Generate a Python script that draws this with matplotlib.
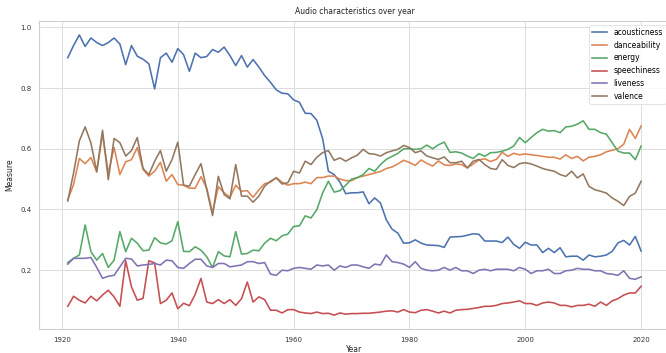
import numpy as np
import matplotlib
matplotlib.use("Agg")
import matplotlib.pyplot as plt

years = list(range(1921, 2021))

acousticness = [
    0.900, 0.940, 0.975, 0.937, 0.965, 0.950, 0.940, 0.950, 0.965, 0.945,
    0.877, 0.940, 0.905, 0.895, 0.880, 0.797, 0.900, 0.915, 0.885, 0.930,
    0.910, 0.855, 0.915, 0.900, 0.904, 0.927, 0.918, 0.935, 0.907, 0.874,
    0.907, 0.869, 0.894, 0.869, 0.841, 0.819, 0.794, 0.783, 0.781, 0.761,
    0.753, 0.717, 0.716, 0.694, 0.634, 0.526, 0.515, 0.490, 0.452, 0.455,
    0.455, 0.458, 0.419, 0.438, 0.421, 0.366, 0.335, 0.322, 0.289, 0.290,
    0.300, 0.289, 0.283, 0.282, 0.281, 0.275, 0.309, 0.310, 0.311, 0.315,
    0.320, 0.318, 0.296, 0.296, 0.296, 0.291, 0.309, 0.285, 0.272, 0.292,
    0.283, 0.283, 0.258, 0.272, 0.258, 0.274, 0.244, 0.246, 0.246, 0.233,
    0.250, 0.244, 0.246, 0.250, 0.262, 0.290, 0.298, 0.283, 0.311, 0.263,
]

danceability = [
    0.432, 0.482, 0.568, 0.551, 0.571, 0.524, 0.648, 0.520, 0.604, 0.515,
    0.557, 0.564, 0.604, 0.532, 0.510, 0.526, 0.555, 0.493, 0.515, 0.482,
    0.480, 0.470, 0.470, 0.508, 0.470, 0.390, 0.475, 0.455, 0.440, 0.480,
    0.460, 0.462, 0.440, 0.465, 0.485, 0.490, 0.505, 0.490, 0.480, 0.485,
    0.485, 0.490, 0.485, 0.505, 0.505, 0.510, 0.510, 0.500, 0.495, 0.495,
    0.505, 0.510, 0.515, 0.520, 0.525, 0.535, 0.540, 0.550, 0.562, 0.555,
    0.545, 0.563, 0.552, 0.543, 0.560, 0.547, 0.545, 0.550, 0.548, 0.537,
    0.550, 0.563, 0.567, 0.558, 0.565, 0.588, 0.575, 0.585, 0.580, 0.583,
    0.580, 0.578, 0.575, 0.572, 0.572, 0.566, 0.580, 0.568, 0.575, 0.560,
    0.572, 0.575, 0.580, 0.590, 0.595, 0.600, 0.615, 0.664, 0.634, 0.675,
]

energy = [
    0.225, 0.239, 0.250, 0.349, 0.261, 0.233, 0.255, 0.209, 0.233, 0.327,
    0.261, 0.305, 0.289, 0.264, 0.266, 0.307, 0.290, 0.286, 0.297, 0.360,
    0.262, 0.261, 0.277, 0.266, 0.244, 0.209, 0.261, 0.247, 0.244, 0.327,
    0.253, 0.255, 0.266, 0.264, 0.289, 0.305, 0.297, 0.313, 0.319, 0.344,
    0.346, 0.379, 0.372, 0.399, 0.454, 0.493, 0.457, 0.462, 0.480, 0.500,
    0.505, 0.515, 0.535, 0.526, 0.548, 0.565, 0.575, 0.585, 0.600, 0.600,
    0.598, 0.600, 0.612, 0.600, 0.613, 0.622, 0.588, 0.590, 0.586, 0.576,
    0.568, 0.584, 0.575, 0.587, 0.588, 0.592, 0.598, 0.609, 0.637, 0.620,
    0.637, 0.653, 0.664, 0.658, 0.660, 0.653, 0.672, 0.674, 0.681, 0.692,
    0.664, 0.664, 0.653, 0.648, 0.620, 0.592, 0.586, 0.586, 0.564, 0.609,
]

speechiness = [
    0.081, 0.114, 0.101, 0.092, 0.114, 0.099, 0.118, 0.134, 0.112, 0.081,
    0.231, 0.145, 0.101, 0.107, 0.231, 0.224, 0.090, 0.101, 0.125, 0.073,
    0.091, 0.083, 0.120, 0.173, 0.095, 0.090, 0.103, 0.090, 0.103, 0.084,
    0.106, 0.161, 0.095, 0.112, 0.103, 0.068, 0.068, 0.059, 0.070, 0.070,
    0.062, 0.059, 0.057, 0.062, 0.057, 0.058, 0.052, 0.059, 0.055, 0.057,
    0.057, 0.058, 0.058, 0.060, 0.062, 0.065, 0.066, 0.062, 0.070, 0.062,
    0.060, 0.068, 0.070, 0.065, 0.059, 0.065, 0.059, 0.068, 0.070, 0.071,
    0.074, 0.077, 0.081, 0.081, 0.084, 0.090, 0.092, 0.095, 0.099, 0.090,
    0.090, 0.084, 0.092, 0.095, 0.092, 0.084, 0.084, 0.079, 0.084, 0.084,
    0.088, 0.081, 0.095, 0.084, 0.099, 0.106, 0.118, 0.125, 0.125, 0.147,
]

liveness = [
    0.220, 0.239, 0.239, 0.239, 0.242, 0.209, 0.173, 0.180, 0.183, 0.211,
    0.239, 0.237, 0.214, 0.217, 0.219, 0.222, 0.217, 0.233, 0.231, 0.209,
    0.206, 0.222, 0.236, 0.236, 0.214, 0.209, 0.222, 0.222, 0.211, 0.214,
    0.217, 0.228, 0.228, 0.222, 0.225, 0.187, 0.183, 0.200, 0.198, 0.206,
    0.209, 0.206, 0.203, 0.217, 0.214, 0.217, 0.200, 0.214, 0.209, 0.217,
    0.217, 0.211, 0.206, 0.220, 0.217, 0.250, 0.228, 0.225, 0.220, 0.209,
    0.228, 0.206, 0.200, 0.198, 0.200, 0.209, 0.200, 0.209, 0.198, 0.198,
    0.189, 0.200, 0.203, 0.198, 0.203, 0.203, 0.203, 0.198, 0.209, 0.203,
    0.189, 0.198, 0.198, 0.203, 0.189, 0.189, 0.198, 0.200, 0.206, 0.203,
    0.203, 0.198, 0.198, 0.189, 0.187, 0.183, 0.198, 0.173, 0.170, 0.178,
]

valence = [
    0.428, 0.520, 0.626, 0.672, 0.619, 0.524, 0.661, 0.498, 0.634, 0.620,
    0.576, 0.594, 0.637, 0.535, 0.515, 0.559, 0.594, 0.526, 0.564, 0.622,
    0.480, 0.477, 0.515, 0.551, 0.465, 0.380, 0.509, 0.449, 0.435, 0.548,
    0.444, 0.444, 0.424, 0.444, 0.477, 0.493, 0.504, 0.484, 0.488, 0.526,
    0.520, 0.559, 0.548, 0.572, 0.587, 0.594, 0.562, 0.570, 0.559, 0.570,
    0.579, 0.598, 0.584, 0.582, 0.576, 0.587, 0.593, 0.598, 0.611, 0.604,
    0.587, 0.593, 0.576, 0.570, 0.565, 0.573, 0.554, 0.554, 0.559, 0.537,
    0.559, 0.565, 0.548, 0.535, 0.532, 0.564, 0.545, 0.538, 0.551, 0.554,
    0.550, 0.543, 0.535, 0.530, 0.526, 0.515, 0.509, 0.526, 0.504, 0.517,
    0.476, 0.465, 0.460, 0.454, 0.438, 0.427, 0.413, 0.443, 0.454, 0.493,
]

series = {
    "acousticness": acousticness,
    "danceability": danceability,
    "energy": energy,
    "speechiness": speechiness,
    "liveness": liveness,
    "valence": valence,
}
colors = ["#4C72B0", "#DD8452", "#55A868", "#C44E52", "#8172B3", "#937860"]

plt.rcParams["font.family"] = ["DejaVu Sans"]

fig = plt.figure(figsize=(6.66, 3.53), dpi=100)
ax = fig.add_axes([0.0587, 0.0677, 0.947, 0.873])
ax.set_facecolor("white")

for (name, vals), c in zip(series.items(), colors):
    ax.plot(years, vals, color=c, lw=1.15, label=name)

ax.grid(True, color="#dddddd", lw=0.7)
ax.set_axisbelow(True)
for s in ax.spines.values():
    s.set_color("#d0d0d0")
    s.set_linewidth(0.8)
ax.tick_params(axis="both", length=0, labelsize=5, colors="#333333", pad=5.5)
ax.set_xticks([1920, 1940, 1960, 1980, 2000, 2020])
ax.set_yticks([0.2, 0.4, 0.6, 0.8, 1.0])

ax.set_title("Audio characteristics over year", fontsize=5.5, color="#222222", pad=5)
ax.set_xlabel("Year", fontsize=5.5, color="#222222", labelpad=1.5)
ax.set_ylabel("Measure", fontsize=5.5, color="#222222", labelpad=4)

leg = ax.legend(loc="upper right", fontsize=5.5, frameon=True, fancybox=True,
                borderaxespad=0.5)
leg.get_frame().set_edgecolor("#d8d8d8")
leg.get_frame().set_linewidth(0.6)

fig.savefig("out.png", dpi=100, facecolor="white")
